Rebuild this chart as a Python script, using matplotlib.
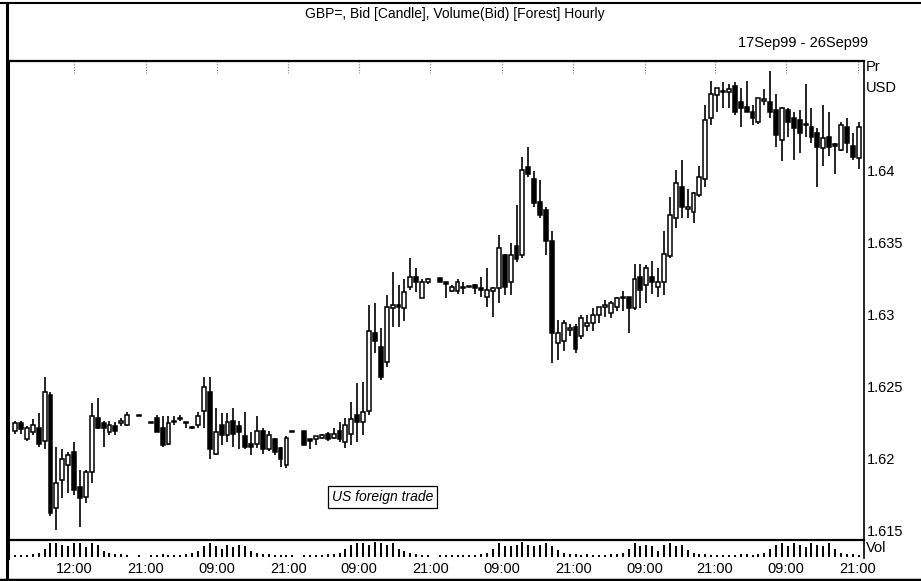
import numpy as np
import matplotlib
matplotlib.use("Agg")
import matplotlib.pyplot as plt
from matplotlib.lines import Line2D
import matplotlib.transforms as mtrans

plt.rcParams['font.family'] = ['Liberation Sans', 'DejaVu Sans']

nan = np.nan
# Hourly OHLC bars (index order); nan = no bar drawn
opens = [1.6219, 1.6224, 1.6213, 1.6218, 1.6221, 1.6212, 1.6244, 1.6165, 1.6185, 1.6195,
         1.6204, 1.6180, 1.6173, 1.6190, 1.6228, 1.6224, 1.6218, 1.6222, 1.6224, 1.6223,
         nan, 1.6229, nan, 1.6224, 1.6228, 1.6221, 1.6210, 1.6225, 1.6228, 1.6224,
         1.6221, 1.6223, 1.6233, 1.6246, 1.6203, 1.6223, 1.6216, 1.6226, 1.6222, 1.6215,
         1.6210, 1.6210, 1.6219, 1.6206, 1.6213, 1.6207, 1.6195, 1.6218, nan, 1.6219,
         1.6213, 1.6213, 1.6214, 1.6217, 1.6214, 1.6219, 1.6211, 1.6217, 1.6230, 1.6225,
         1.6233, 1.6287, 1.6277, 1.6267, 1.6304, 1.6306, 1.6304, 1.6319, 1.6326, 1.6311,
         1.6322, nan, 1.6325, 1.6322, 1.6316, 1.6316, 1.6318, 1.6319, 1.6320, 1.6318,
         1.6312, 1.6316, 1.6318, 1.6341, 1.6322, 1.6347, 1.6341, 1.6402, 1.6394, 1.6378,
         1.6372, 1.6351, 1.6280, 1.6281, 1.6289, 1.6291, 1.6285, 1.6292, 1.6294, 1.6299,
         1.6305, 1.6301, 1.6305, 1.6311, 1.6312, 1.6304, 1.6326, 1.6320, 1.6326, 1.6319,
         1.6322, 1.6340, 1.6367, 1.6388, 1.6373, 1.6371, 1.6383, 1.6394, 1.6436, 1.6452,
         1.6454, 1.6454, 1.6458, 1.6447, 1.6444, 1.6440, 1.6433, 1.6448, 1.6447, 1.6442,
         1.6421, 1.6442, 1.6436, 1.6435, 1.6431, 1.6430, 1.6426, 1.6415, 1.6423, 1.6418,
         1.6414, 1.6430, 1.6417, 1.6408]
highs = [1.6226, 1.6226, 1.6222, 1.6227, 1.6231, 1.6256, 1.6246, 1.6208, 1.6206, 1.6204,
         1.6211, 1.6192, 1.6192, 1.6238, 1.6242, 1.6226, 1.6226, 1.6225, 1.6228, 1.6232,
         nan, 1.6229, nan, 1.6224, 1.6230, 1.6229, 1.6229, 1.6229, 1.6230, 1.6224,
         1.6222, 1.6232, 1.6256, 1.6256, 1.6235, 1.6231, 1.6231, 1.6235, 1.6226, 1.6232,
         1.6218, 1.6229, 1.6221, 1.6219, 1.6214, 1.6208, 1.6215, 1.6218, nan, 1.6219,
         1.6213, 1.6215, 1.6217, 1.6218, 1.6221, 1.6225, 1.6228, 1.6239, 1.6252, 1.6253,
         1.6306, 1.6308, 1.6290, 1.6313, 1.6329, 1.6320, 1.6324, 1.6339, 1.6332, 1.6324,
         1.6325, nan, 1.6325, 1.6322, 1.6320, 1.6324, 1.6322, 1.6319, 1.6321, 1.6326,
         1.6332, 1.6319, 1.6355, 1.6342, 1.6349, 1.6376, 1.6409, 1.6416, 1.6399, 1.6393,
         1.6374, 1.6358, 1.6296, 1.6296, 1.6293, 1.6293, 1.6299, 1.6299, 1.6304, 1.6305,
         1.6310, 1.6309, 1.6312, 1.6316, 1.6312, 1.6335, 1.6335, 1.6334, 1.6337, 1.6332,
         1.6358, 1.6381, 1.6400, 1.6407, 1.6387, 1.6385, 1.6403, 1.6445, 1.6462, 1.6457,
         1.6461, 1.6460, 1.6461, 1.6457, 1.6462, 1.6445, 1.6450, 1.6456, 1.6469, 1.6453,
         1.6444, 1.6443, 1.6440, 1.6442, 1.6460, 1.6443, 1.6429, 1.6445, 1.6440, 1.6419,
         1.6433, 1.6436, 1.6426, 1.6433]
lows = [1.6217, 1.6217, 1.6212, 1.6216, 1.6208, 1.6206, 1.6160, 1.6150, 1.6172, 1.6176,
        1.6174, 1.6152, 1.6169, 1.6183, 1.6220, 1.6208, 1.6216, 1.6216, 1.6222, 1.6222,
        nan, 1.6229, nan, 1.6224, 1.6218, 1.6208, 1.6209, 1.6223, 1.6226, 1.6221,
        1.6220, 1.6221, 1.6221, 1.6199, 1.6202, 1.6209, 1.6211, 1.6208, 1.6206, 1.6206,
        1.6202, 1.6207, 1.6203, 1.6205, 1.6202, 1.6194, 1.6193, 1.6218, nan, 1.6209,
        1.6206, 1.6209, 1.6213, 1.6212, 1.6213, 1.6211, 1.6207, 1.6209, 1.6211, 1.6216,
        1.6230, 1.6273, 1.6254, 1.6263, 1.6291, 1.6291, 1.6295, 1.6317, 1.6315, 1.6311,
        1.6321, nan, 1.6322, 1.6311, 1.6315, 1.6314, 1.6314, 1.6319, 1.6314, 1.6312,
        1.6305, 1.6298, 1.6308, 1.6313, 1.6313, 1.6336, 1.6339, 1.6395, 1.6374, 1.6367,
        1.6341, 1.6266, 1.6268, 1.6274, 1.6285, 1.6273, 1.6283, 1.6288, 1.6288, 1.6294,
        1.6298, 1.6297, 1.6302, 1.6302, 1.6287, 1.6303, 1.6304, 1.6308, 1.6314, 1.6312,
        1.6313, 1.6339, 1.6360, 1.6367, 1.6367, 1.6363, 1.6381, 1.6388, 1.6431, 1.6440,
        1.6443, 1.6443, 1.6438, 1.6430, 1.6440, 1.6431, 1.6432, 1.6445, 1.6436, 1.6416,
        1.6406, 1.6423, 1.6407, 1.6412, 1.6423, 1.6419, 1.6388, 1.6403, 1.6410, 1.6397,
        1.6413, 1.6412, 1.6407, 1.6401]
closes = [1.6224, 1.6220, 1.6221, 1.6223, 1.6210, 1.6246, 1.6162, 1.6183, 1.6199, 1.6202,
          1.6178, 1.6172, 1.6190, 1.6229, 1.6221, 1.6221, 1.6223, 1.6219, 1.6226, 1.6230,
          nan, 1.6229, nan, 1.6224, 1.6218, 1.6209, 1.6224, 1.6226, 1.6227, 1.6224,
          1.6221, 1.6229, 1.6249, 1.6206, 1.6218, 1.6216, 1.6225, 1.6217, 1.6218, 1.6208,
          1.6208, 1.6219, 1.6206, 1.6216, 1.6204, 1.6199, 1.6214, 1.6218, nan, 1.6209,
          1.6212, 1.6215, 1.6216, 1.6213, 1.6217, 1.6213, 1.6223, 1.6227, 1.6225, 1.6232,
          1.6288, 1.6281, 1.6256, 1.6305, 1.6306, 1.6305, 1.6315, 1.6326, 1.6322, 1.6322,
          1.6324, nan, 1.6322, 1.6321, 1.6319, 1.6322, 1.6319, 1.6319, 1.6318, 1.6317,
          1.6317, 1.6318, 1.6346, 1.6319, 1.6341, 1.6338, 1.6400, 1.6397, 1.6377, 1.6369,
          1.6351, 1.6287, 1.6287, 1.6294, 1.6290, 1.6276, 1.6297, 1.6294, 1.6299, 1.6305,
          1.6306, 1.6308, 1.6311, 1.6311, 1.6304, 1.6324, 1.6317, 1.6332, 1.6322, 1.6322,
          1.6342, 1.6369, 1.6391, 1.6374, 1.6374, 1.6384, 1.6395, 1.6435, 1.6453, 1.6457,
          1.6454, 1.6456, 1.6440, 1.6443, 1.6440, 1.6436, 1.6450, 1.6449, 1.6440, 1.6424,
          1.6443, 1.6433, 1.6429, 1.6426, 1.6431, 1.6423, 1.6416, 1.6422, 1.6416, 1.6417,
          1.6431, 1.6419, 1.6409, 1.6430]
volumes = [1, 1, 1, 2, 3,
           6, 10, 10, 9, 8, 10, 10, 7, 10, 9,
           4, 3, 2, 2, 1,
           nan, 1, nan, 1,
           1, 2, 1, 1, 1, 2, 3,
           4, 8, 10, 8, 6, 9, 7, 9, 8, 4, 3, 2,
           2, 1, 1, 1, 1,
           nan,
           1, 1, 1, 1, 2, 2, 3,
           6, 9, 10, 10, 9, 11, 10, 9, 10, 6, 4,
           3, 2, 1, 1,
           nan,
           1, 1, 1, 1, 1, 1, 1, 2,
           3, 6, 10, 8, 8, 9, 11, 9, 8, 9, 10, 8, 5,
           3, 2, 2, 1, 2, 1, 1, 1, 2, 2, 3,
           6, 10, 8, 9, 8, 4, 9, 10, 8, 9, 5,
           3, 2, 2, 1, 1, 1, 1, 1, 2, 2, 1, 2, 3,
           6, 9, 10, 8, 10, 9, 7, 10, 9, 8, 10, 6,
           3, 2, 2, 1]

tick_pos = [10.0, 22.2, 34.2, 46.3, 58.3, 70.4, 82.5, 94.6, 106.8, 118.6, 130.7, 142.9]
tick_labels = ['12:00', '21:00', '09:00', '21:00', '09:00', '21:00',
               '09:00', '21:00', '09:00', '21:00', '09:00', '21:00']
price_ticks = [1.615, 1.62, 1.625, 1.63, 1.635, 1.64]
price_labels = ['1.615', '1.62', '1.625', '1.63', '1.635', '1.64']

o = np.array(opens, float); h = np.array(highs, float)
l = np.array(lows, float); c = np.array(closes, float)
v = np.array(volumes, float)
n = len(o)
idx = np.arange(n)

W, H = 921, 581
fig = plt.figure(figsize=(W / 100, H / 100), dpi=100)
fig.patch.set_facecolor('white')

def fx(px): return px / W
def fy(py): return 1 - py / H

axp = fig.add_axes([fx(8), fy(540), fx(864) - fx(8), fy(61) - fy(540)])
axv = fig.add_axes([fx(8), fy(558), fx(864) - fx(8), fy(540) - fy(558)])

xlim = (-1.2, 143.9)
# candles
valid = ~np.isnan(o)
axp.vlines(idx[valid], l[valid], h[valid], color='black', lw=1.2, zorder=2)
up = valid & (c >= o)
dn = valid & (c < o)
minh = 0.00007
bw = 0.66
bot = np.minimum(o, c)
hgt = np.maximum(np.abs(c - o), minh)
axp.bar(idx[up], hgt[up], bottom=bot[up], width=bw, color='white',
        edgecolor='black', lw=1.1, zorder=3)
axp.bar(idx[dn], hgt[dn], bottom=bot[dn], width=bw, color='black',
        edgecolor='black', lw=1.1, zorder=3)

axp.set_xlim(*xlim)
axp.set_ylim(1.61431, 1.64757)
axp.yaxis.tick_right()
axp.set_yticks(price_ticks)
axp.set_yticklabels(price_labels)
axp.tick_params(axis='y', length=0, pad=2, labelsize=10.5)
axp.set_xticks([])
for s, lw in (('left', 2.2), ('top', 1.6), ('right', 1.2), ('bottom', 1.6)):
    axp.spines[s].set_linewidth(lw)

# short dotted marks at top of price panel
trans = mtrans.blended_transform_factory(axp.transData, axp.transAxes)
for t in tick_pos:
    axp.plot([t, t], [1.0, 0.975], transform=trans, color='#777777', lw=0.8,
             ls=(0, (1, 1.5)), zorder=1)

axp.text(0.4375, 0.0898, 'US foreign trade', transform=axp.transAxes,
         ha='center', va='center', fontsize=10, style='italic',
         bbox=dict(boxstyle='square,pad=0.3', fc='white', ec='black', lw=0.9))

# volume panel
vv = ~np.isnan(v)
axv.vlines(idx[vv], 0, v[vv], color='black', lw=1.4)
axv.set_xlim(*xlim)
axv.set_ylim(-1.0, 12.5)
axv.set_yticks([])
axv.set_xticks(tick_pos)
axv.set_xticklabels(tick_labels)
axv.tick_params(axis='x', length=0, pad=3, labelsize=10.5)
axv.spines['top'].set_visible(False)
axv.spines['bottom'].set_visible(False)
axv.spines['left'].set_linewidth(2.2)
axv.spines['right'].set_linewidth(1.2)
axv.patch.set_alpha(0)

# right-side labels
fig.text(fx(866), fy(67), 'Pr', ha='left', va='center', fontsize=10.5)
fig.text(fx(866), fy(88), 'USD', ha='left', va='center', fontsize=10.5)
fig.text(fx(866), fy(548), 'Vol', ha='left', va='center', fontsize=10.5)

# title texts
fig.text(fx(455), fy(14), 'GBP=, Bid [Candle], Volume(Bid) [Forest] Hourly',
         ha='center', va='center', fontsize=10)
fig.text(fx(868), fy(43), '17Sep99 - 26Sep99', ha='right', va='center', fontsize=10.5)

# outer frame lines
fig.add_artist(Line2D([0, 1], [fy(3), fy(3)], transform=fig.transFigure, color='black', lw=1.5))
fig.add_artist(Line2D([fx(7), fx(7)], [fy(3), fy(581)], transform=fig.transFigure, color='black', lw=2.2))
fig.add_artist(Line2D([0, 1], [fy(579.5), fy(579.5)], transform=fig.transFigure, color='black', lw=2.5))

fig.savefig('out.png', dpi=100)
